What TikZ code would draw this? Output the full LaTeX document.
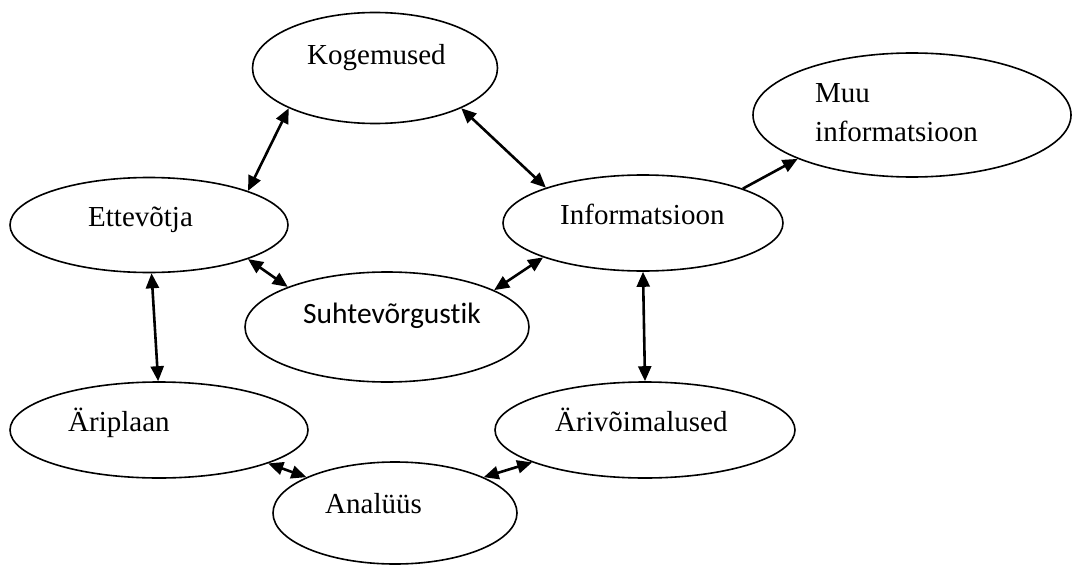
\documentclass[tikz,border=0pt]{standalone}
\usepackage{fontspec}
\setmainfont{Liberation Serif}
\newfontfamily\calfont[Ligatures=NoCommon]{Carlito}
\usetikzlibrary{shapes.geometric,arrows.meta}
\tikzset{
  oval/.style={draw=black, line width=1.6pt, ellipse, inner sep=0pt},
  lbl/.style={anchor=base west, inner sep=0pt, font=\fontsize{29}{34}\selectfont},
  link/.style={line width=2.6pt, {Triangle[length=15pt,width=13pt]}-{Triangle[length=15pt,width=13pt]}},
  onelink/.style={line width=2.6pt, -{Triangle[length=15pt,width=13pt]}}
}
\begin{document}
\begin{tikzpicture}[x=1pt,y=-1pt]
\useasboundingbox (0,0) rectangle (1073,567);
% ellipses
\node[oval, minimum width=245pt, minimum height=111pt] (kog) at (375,68) {};
\node[oval, minimum width=318pt, minimum height=124pt] (muu) at (912,115) {};
\node[oval, minimum width=278pt, minimum height=95pt] (ett) at (149,225) {};
\node[oval, minimum width=280pt, minimum height=96pt] (inf) at (643,223) {};
\node[oval, minimum width=284pt, minimum height=110pt] (suh) at (387,327) {};
\node[oval, minimum width=298pt, minimum height=96pt] (ari) at (159,430) {};
\node[oval, minimum width=300pt, minimum height=96pt] (ariv) at (645,430) {};
\node[oval, minimum width=244pt, minimum height=102pt] (ana) at (395,513) {};
% texts
\node[lbl] (kogT) at (307,65) {Kogemused};
\node[lbl] (muuT1) at (815,103) {Muu};
\node[lbl] (muuT2) at (815,142) {informatsioon};
\node[lbl] (ettT) at (88,226) {Ettevõtja};
\node[lbl] (infT) at (560,224) {Informatsioon};
\node[lbl, font=\calfont\fontsize{29.5}{34}\selectfont] (suhT) at (303,323) {Suhtevõrgustik};
\node[lbl] (ariT) at (68,431) {Äriplaan};
\node[lbl] (arivT) at (555,431) {Ärivõimalused};
\node[lbl] (anaT) at (325,513) {Analüüs};
% connectors
\draw[link] (kog.205.2) -- (ett.19.5);
\draw[link] (kog.335.3) -- (inf.160.7);
\draw[onelink] (inf.19) -- (muu.201.1);
\draw[link] (ett.341.9) -- (suh.158);
\draw[link] (suh.19.8) -- (inf.199.3);
\draw[link] (ett.273.4) -- (ari.91.2);
\draw[link] (inf.270) -- (ariv.90);
\draw[link] (ari.343.2) -- (ana.158.3);
\draw[link] (ana.22.5) -- (ariv.196.7);
\end{tikzpicture}
\end{document}
